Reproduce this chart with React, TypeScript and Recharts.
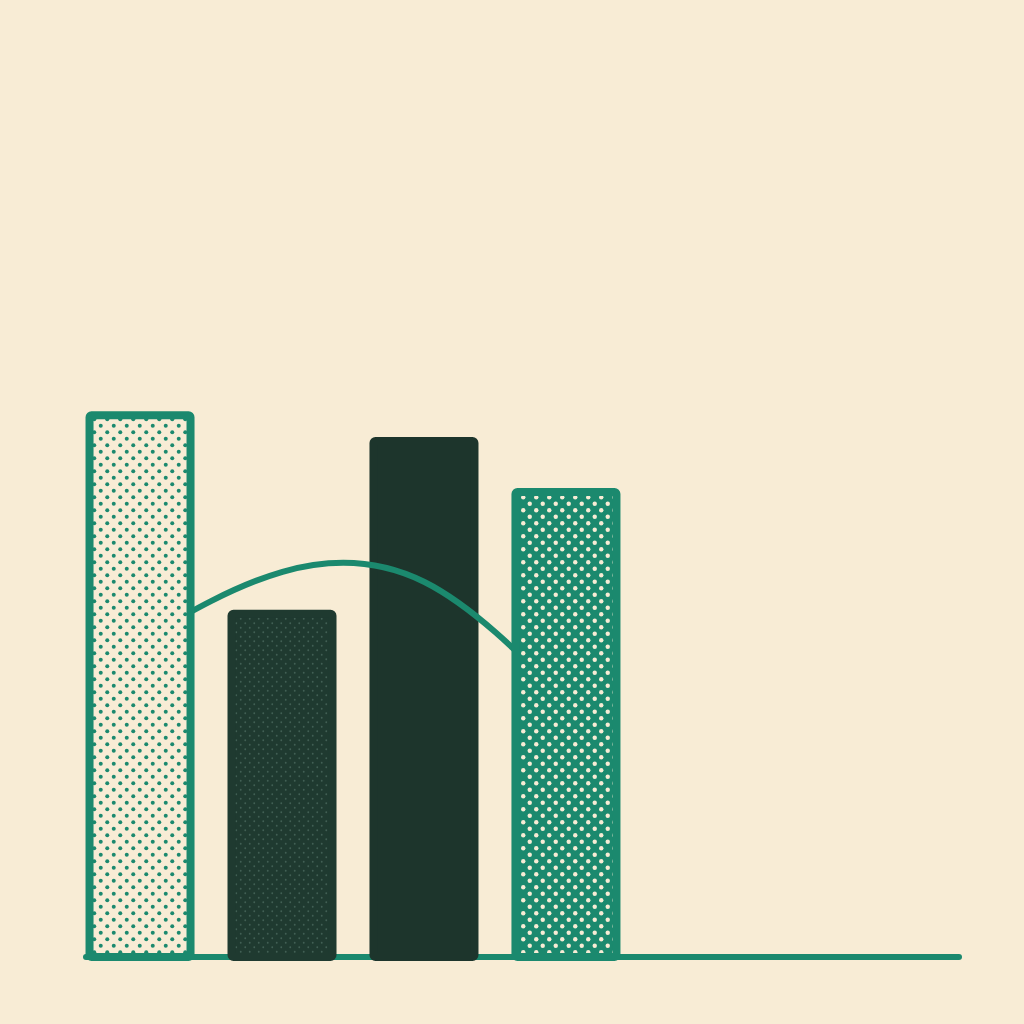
import { ComposedChart, Bar, Line, XAxis, YAxis, Cell } from "recharts";

const categories = ["A", "B", "C", "D"];
const backValues = [null, 57.2, 86, null];
const frontValues = [90.3, null, null, 77.5];
const arcValues = [52.8, 64.2, 62.5, 42.8];

const CREAM = "#f8ecd5";
const TEAL = "#1b896e";
const DARK = "#1f3a30";
const DARKER = "#1d352c";

const data = categories.map((name, i) => ({
  name,
  pos: i + 1,
  back: backValues[i],
  front: frontValues[i],
  arc: arcValues[i],
}));

const backFill = ["none", "url(#speckle)", DARKER, "none"];
const backStroke = ["none", DARK, DARKER, "none"];
const frontFill = ["url(#dotsLight)", "none", "none", "url(#dotsDark)"];
const frontStroke = [TEAL, "none", "none", TEAL];

export default function App() {
  return (
    <div
      style={{
        position: "absolute",
        left: 0,
        top: 0,
        width: 1024,
        height: 1024,
        background: CREAM,
      }}
    >
      <ComposedChart
        width={1024}
        height={1024}
        data={data}
        margin={{ top: 357, right: 65, bottom: 66, left: 86 }}
      >
        <defs>
          <pattern id="dotsLight" width="13" height="13" patternUnits="userSpaceOnUse">
            <rect width="13" height="13" fill={CREAM} />
            <circle cx="3.25" cy="3.25" r="2" fill={TEAL} />
            <circle cx="9.75" cy="9.75" r="2" fill={TEAL} />
          </pattern>
          <pattern id="dotsDark" width="13" height="13" patternUnits="userSpaceOnUse">
            <rect width="13" height="13" fill={TEAL} />
            <circle cx="3.25" cy="3.25" r="2.2" fill={CREAM} />
            <circle cx="9.75" cy="9.75" r="2.2" fill={CREAM} />
          </pattern>
          <pattern id="speckle" width="9" height="9" patternUnits="userSpaceOnUse">
            <rect width="9" height="9" fill={DARK} />
            <circle cx="2.25" cy="2.25" r="0.9" fill="#8fb8a6" opacity="0.3" />
            <circle cx="6.75" cy="6.75" r="0.9" fill="#8fb8a6" opacity="0.3" />
          </pattern>
        </defs>
        <XAxis
          dataKey="pos"
          type="number"
          domain={[0.616, 6.765]}
          tick={false}
          tickLine={false}
          height={1}
          axisLine={{ stroke: TEAL, strokeWidth: 6, strokeLinecap: "round" }}
        />
        <YAxis hide domain={[0, 100]} />
        <Bar
          dataKey="back"
          stackId="s"
          barSize={101}
          radius={2}
          isAnimationActive={false}
          zIndex={550}
        >
          {data.map((d, i) => (
            <Cell key={d.name} fill={backFill[i]} stroke={backStroke[i]} strokeWidth={8} />
          ))}
        </Bar>
        <Line
          dataKey="arc"
          type="natural"
          stroke={TEAL}
          strokeWidth={6}
          dot={false}
          activeDot={false}
          isAnimationActive={false}
          zIndex={600}
        />
        <Bar
          dataKey="front"
          stackId="s"
          barSize={101}
          radius={2}
          isAnimationActive={false}
          zIndex={650}
        >
          {data.map((d, i) => (
            <Cell key={d.name} fill={frontFill[i]} stroke={frontStroke[i]} strokeWidth={8} />
          ))}
        </Bar>
      </ComposedChart>
    </div>
  );
}
